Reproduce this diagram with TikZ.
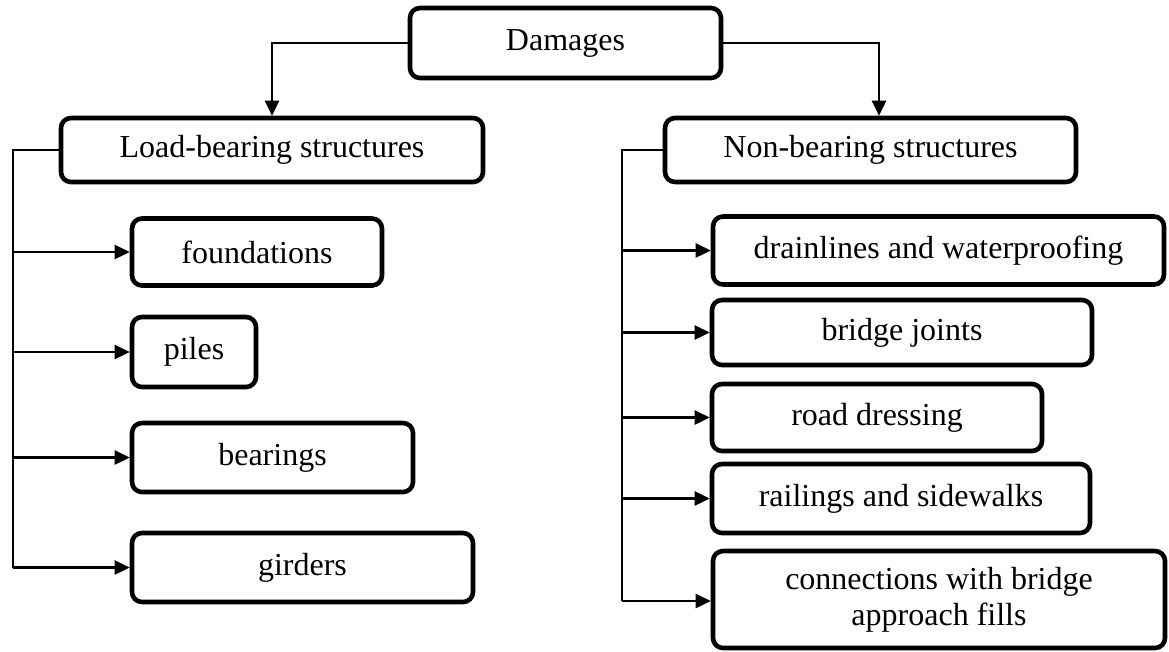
\documentclass[tikz,border=0pt]{standalone}
\usepackage{fontspec}
\setmainfont{Liberation Serif}
\usetikzlibrary{arrows.meta}
\begin{document}
\begin{tikzpicture}[x=1pt,y=-1pt,
  box/.style={draw=black,line width=4.6pt,rounded corners=10pt,inner sep=0pt,
    font=\fontsize{32}{36}\selectfont,align=center},
  conn/.style={line width=2.6pt},
  arr/.style={conn,-{Triangle[length=15pt,width=14pt]}}]
\useasboundingbox (0,0) rectangle (1169,651);
% nodes
\node[box,minimum width=311pt,minimum height=70pt] (dam) at (565.5,43) {Damages};
\node[box,minimum width=422pt,minimum height=64pt] (lb) at (272,150) {Load-bearing structures};
\node[box,minimum width=411pt,minimum height=64pt] (nb) at (870.5,150) {Non-bearing structures};
\node[box,minimum width=250pt,minimum height=67pt] (found) at (257,252) {foundations};
\node[box,minimum width=124pt,minimum height=70pt] (piles) at (194,352) {piles};
\node[box,minimum width=281pt,minimum height=69pt] (bear) at (272.5,457.5) {bearings};
\node[box,minimum width=341pt,minimum height=69pt] (gird) at (302.5,567.5) {girders};
\node[box,minimum width=451pt,minimum height=68pt] (drain) at (938.5,250.5) {drainlines and waterproofing};
\node[box,minimum width=380pt,minimum height=65pt] (joint) at (902,332.5) {bridge joints};
\node[box,minimum width=330pt,minimum height=67pt] (road) at (877,417.5) {road dressing};
\node[box,minimum width=378pt,minimum height=69pt] (rail) at (901,498.5) {railings and sidewalks};
\node[box,minimum width=452pt,minimum height=97pt] (conn) at (939,599.5) {connections with bridge\\approach fills};
% connectors from Damages
\coordinate (rdrop) at (879,43);
\draw[arr] (dam.west) -| (lb.north);
\draw[arr] (dam.east) -- (rdrop) -- (rdrop |- nb.north);
% left trunk
\coordinate (ltop) at (13,150);
\coordinate (lbot) at (13,567.5);
\draw[conn] (lb.west) -- (ltop) -- (lbot);
\draw[arr] (ltop |- found.west) -- (found.west);
\draw[arr] (ltop |- piles.west) -- (piles.west);
\draw[arr] (ltop |- bear.west) -- (bear.west);
\draw[arr] (lbot) -- (gird.west);
% right trunk
\coordinate (rtop) at (622,150);
\coordinate (rbot) at (622,601);
\draw[conn] (nb.west) -- (rtop) -- (rbot);
\draw[arr] (rtop |- drain.west) -- (drain.west);
\draw[arr] (rtop |- joint.west) -- (joint.west);
\draw[arr] (rtop |- road.west) -- (road.west);
\draw[arr] (rtop |- rail.west) -- (rail.west);
\draw[arr] (rbot) -- (rbot -| conn.west);
\end{tikzpicture}
\end{document}
